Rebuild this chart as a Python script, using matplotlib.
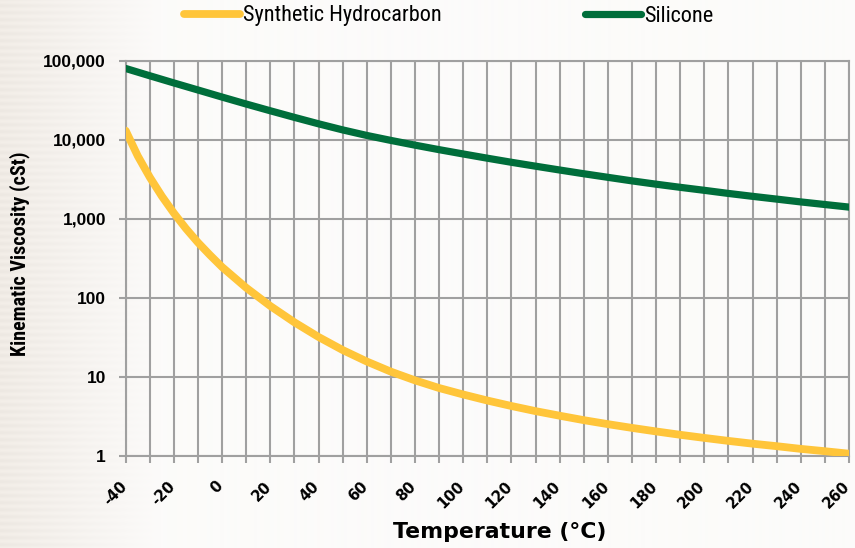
import numpy as np
import matplotlib
matplotlib.use("Agg")
import matplotlib.pyplot as plt
from matplotlib import font_manager as fm
from matplotlib.transforms import ScaledTranslation

# ---------------- data ----------------
temps_hc = [-40, -35, -30, -25, -20, -15, -10, -5, 0, 10, 20, 30, 40, 50, 60, 70, 80, 90, 100,
            110, 120, 130, 140, 150, 160, 170, 180, 190, 200, 210, 220, 230, 240, 250, 260]
visc_hc = [13100, 6270, 3365, 1936, 1180, 753, 501, 347, 245, 134, 78.7, 48.9, 31.9, 21.8, 15.6,
           11.6, 9.0, 7.2, 5.96, 5.0, 4.26, 3.67, 3.21, 2.82, 2.51, 2.25, 2.03, 1.84, 1.68, 1.54,
           1.42, 1.32, 1.22, 1.14, 1.06]

temps_si = [-40, -30, -20, -10, 0, 10, 20, 30, 40, 50, 60, 70, 80, 90, 100, 110, 120, 130,
            140, 150, 160, 170, 180, 190, 200, 210, 220, 230, 240, 250, 260]
visc_si = [80400, 65000, 52700, 42900, 34900, 28500, 23400, 19300, 16000, 13400, 11400, 9860,
           8590, 7530, 6640, 5870, 5210, 4650, 4160, 3730, 3360, 3030, 2750, 2510, 2300, 2100,
           1930, 1780, 1640, 1520, 1410]

series_names = ["Synthetic Hydrocarbon", "Silicone"]
series_colors = ["#FFC53A", "#006E3B"]

x_ticks = list(range(-40, 261, 10))
x_ticklabels = [str(t) if t % 20 == 0 else "" for t in x_ticks]
y_ticks = [1, 10, 100, 1000, 10000, 100000]
y_ticklabels = ["1", "10", "100", "1,000", "10,000", "100,000"]

x_label = "Temperature (°C)"
y_label = "Kinematic Viscosity (cSt)"

# ---------------- fonts ----------------
names = sorted({f.name for f in fm.fontManager.ttflist})
narrow = None
for cand in ["Liberation Sans Narrow", "Arial Narrow", "Roboto Condensed", "Open Sans Condensed",
             "DejaVu Sans Condensed"]:
    if cand in names:
        narrow = cand
        break

W, H = 855, 548
fig = plt.figure(figsize=(W / 100, H / 100), dpi=100)

# background gradient
bg = fig.add_axes([0, 0, 1, 1], zorder=-10)
xx = np.arange(W)[None, :].repeat(H, 0).astype(float)
yy = np.arange(H)[:, None].repeat(W, 1).astype(float)
t = np.clip(xx / 160.0, 0, 1)
left = np.array([240, 235, 229]) / 255.0
right = np.array([252, 251, 250]) / 255.0
img = left[None, None, :] * (1 - t[..., None]) + right[None, None, :] * t[..., None]
stripes = 0.012 * np.sin(yy * 2 * np.pi / 7.0) * (1 - t)
img = np.clip(img + stripes[..., None], 0, 1)
bg.imshow(img, aspect="auto", extent=[0, 1, 0, 1], origin="upper")
bg.axis("off")

ax_l, ax_r, ax_t, ax_b = 125.7, 849.0, 61.0, 455.7
ax = fig.add_axes([ax_l / W, 1 - ax_b / H, (ax_r - ax_l) / W, (ax_b - ax_t) / H])
ax.set_facecolor("none")

grid_c = "#A0A0A0"
lines = []
for tx, vy, c, lw in [(temps_hc, visc_hc, series_colors[0], 5.6), (temps_si, visc_si, series_colors[1], 5.2)]:
    ln, = ax.plot(tx, vy, color=c, lw=lw, solid_capstyle="round", solid_joinstyle="round", zorder=3)
    lines.append(ln)

ax.set_yscale("log")
ax.set_xlim(-40, 260)
ax.set_ylim(1, 100000)
ax.minorticks_off()
ax.set_xticks(x_ticks)
ax.set_xticklabels(x_ticklabels)
ax.set_yticks(y_ticks)
ax.set_yticklabels(y_ticklabels)
ax.grid(True, color=grid_c, lw=1.5, zorder=1)
for s in ax.spines.values():
    s.set_color(grid_c)
    s.set_linewidth(1.5)
ax.tick_params(axis="x", length=5, width=1.5, color=grid_c, pad=11.5)
ax.tick_params(axis="y", length=4.8, width=1.5, color=grid_c, pad=9.4)

for lbl in ax.get_xticklabels():
    lbl.set_rotation(45)
    lbl.set_ha("right")
    lbl.set_va("top")
    lbl.set_fontfamily("DejaVu Sans")
    lbl.set_fontweight("bold")
    lbl.set_fontsize(10.6)
    lbl.set_transform(lbl.get_transform() + ScaledTranslation(4 / 100, 0, fig.dpi_scale_trans))

for lbl in ax.get_yticklabels():
    lbl.set_fontfamily("Liberation Sans")
    lbl.set_fontweight("bold")
    lbl.set_fontsize(12.5)

ax.set_xlabel(x_label, fontfamily="DejaVu Sans", fontweight="bold", fontsize=15.8, va="center")
ax.xaxis.set_label_coords((499.5 - ax_l) / (ax_r - ax_l), (ax_b - 532) / (ax_b - ax_t))

if narrow:
    ax.set_ylabel(y_label, fontfamily=narrow, fontweight="bold", fontsize=14.5, va="center")
else:
    ax.set_ylabel(y_label, fontfamily="Liberation Sans", fontweight="bold", fontsize=12.4, va="center")
ax.yaxis.set_label_coords((20 - ax_l) / (ax_r - ax_l), (ax_b - 254) / (ax_b - ax_t))

# legend
leg_fam = narrow if narrow else "Liberation Sans"
leg_size = 16 if narrow else 14
fs_px = leg_size * 100 / 72
positions = [184, 585]
for ln, name, xp in zip(lines, series_names, positions):
    leg = fig.legend([ln], [name], loc="center left", bbox_to_anchor=(xp / W, 1 - 16 / H),
                     bbox_transform=fig.transFigure, frameon=False, borderpad=0, borderaxespad=0,
                     handlelength=56 / fs_px, handletextpad=3 / fs_px,
                     prop={"family": leg_fam, "size": leg_size})

fig.savefig("out.png", dpi=100)
